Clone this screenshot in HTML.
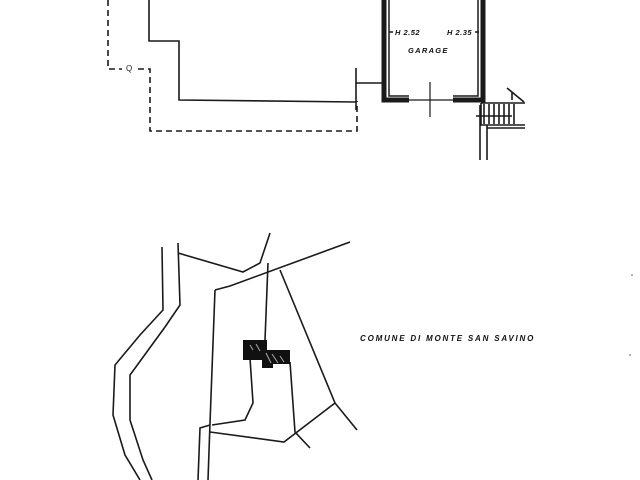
<!DOCTYPE html>
<html><head><meta charset="utf-8"><style>
html,body{margin:0;padding:0;background:#fff;}
svg{display:block;}
</style></head><body>
<svg width="640" height="480" viewBox="0 0 640 480" xmlns="http://www.w3.org/2000/svg">
<rect width="640" height="480" fill="#fff"/>
<g fill="none" stroke="#1a1a1a" stroke-width="1.6">
<path d="M108 0 V69 H122 M138 69 H150 V131 H357 V101" stroke-dasharray="6,4"/>
<text x="126" y="71" font-family="Liberation Sans,sans-serif" font-size="8" fill="#222" stroke="none">Q</text>
<path d="M149 0 V41 H179 V100 L356 102"/>
<path d="M356 68 V110 M356 83 H383"/>
<path d="M384 0 V100 H409 M453 100 H483 V0" stroke-width="5"/>
<path d="M389 0 V96 H409 M453 96 H478 V0" stroke-width="1.5"/>
<path d="M409 100 H453" stroke-width="1.2"/>
<path d="M430 82 V117" stroke-width="1.2"/>
<path d="M389 32 H393 M475 32 H479" />
<path d="M481 103 H525 M481 103 V125 H525 M480 105 V160 M487 125 V160 M487 125 V128 H525"/>
<path d="M484 104 V124 M489 104 V124 M494 104 V124 M499 104 V124 M504 104 V124 M509 104 V124 M514 104 V124"/>
<path d="M507 88 L524 102 M512 92 V100 M476 116 H512"/>
<path d="M162 247 L163 310 L140 335 L115 365 L113 415 L125 455 L140 480"/>
<path d="M178 243 L180 305 L165 327 L130 375 L130 420 L143 460 L152 480"/>
<path d="M178 253 L243 272 L260 263 L270 233"/>
<path d="M215 290 L230 286 L350 242"/>
<path d="M215 290 L210 423 L208 480"/>
<path d="M210 425 L200 428 L198 480"/>
<path d="M268 263 L265 340"/>
<path d="M250 358 L253 403 L245 420 L212 425"/>
<path d="M290 362 L295 432 L310 448"/>
<path d="M280 270 L335 403 L357 430"/>
<path d="M335 403 L284 442 L210 432"/>
</g>
<path d="M243 340 H267 V350 H290 V364 H273 V368 H262 V360 H243 Z" fill="#111"/>
<path d="M250 345 l3 5 M256 344 l4 7 M266 353 l5 10 M272 354 l6 9 M280 356 l4 6" stroke="#aaa" stroke-width="1"/>
<g font-family="Liberation Sans,sans-serif" font-weight="bold" font-style="italic" fill="#111">
<text x="395" y="35" font-size="7.5" letter-spacing="0.5">H 2.52</text>
<text x="447" y="35" font-size="7.5" letter-spacing="0.5">H 2.35</text>
<text x="408" y="53" font-size="7.5" letter-spacing="1.3">GARAGE</text>
<text x="360" y="341" font-size="8" letter-spacing="1.8">COMUNE DI MONTE SAN SAVINO</text>
</g>
<circle cx="632" cy="275" r="0.8" fill="#555"/>
<circle cx="630" cy="355" r="0.8" fill="#555"/>
</svg>
</body></html>
